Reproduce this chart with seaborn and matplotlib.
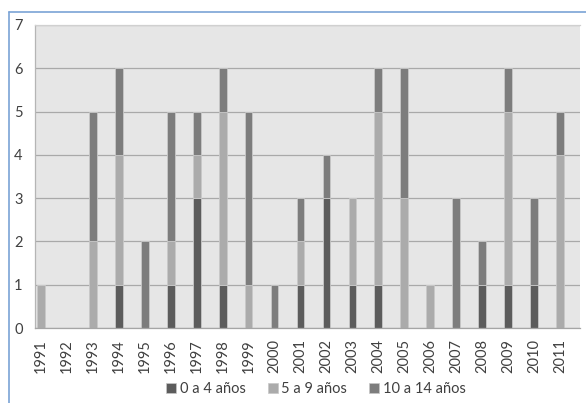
import matplotlib
matplotlib.use("Agg")
import matplotlib.pyplot as plt
from matplotlib.lines import Line2D
from matplotlib.patches import Patch
import seaborn as sns

years = [str(y) for y in range(1991, 2012)]
age_0_4 = [0, 0, 0, 1, 0, 1, 3, 1, 0, 0, 1, 3, 1, 1, 0, 0, 0, 1, 1, 1, 0]
age_5_9 = [1, 0, 2, 3, 0, 1, 1, 4, 1, 0, 1, 0, 2, 4, 3, 1, 0, 0, 4, 0, 4]
age_10_14 = [0, 0, 3, 2, 2, 3, 1, 1, 4, 1, 1, 1, 0, 1, 3, 0, 3, 1, 1, 2, 1]
series_names = ["0 a 4 años", "5 a 9 años", "10 a 14 años"]
series_colors = ["#5c5c5c", "#ababab", "#7d7d7d"]

sns.set_theme(style="white")
plt.rcParams["font.family"] = ["Lato", "DejaVu Sans"]

fig = plt.figure(figsize=(5.86, 4.03), dpi=100)
ax = fig.add_axes([35 / 586, 75 / 403, 545 / 586, 303 / 403])
ax.set_facecolor("#e6e6e6")

bottom = [0] * len(years)
for name, vals, col in zip(series_names, [age_0_4, age_5_9, age_10_14], series_colors):
    sns.barplot(x=years, y=vals, bottom=bottom, color=col, width=0.3,
                edgecolor="#c8c8c8", linewidth=0.6, saturation=1, ax=ax)
    bottom = [b + v for b, v in zip(bottom, vals)]

ax.set_ylim(0, 7)
ax.set_xlim(-0.23, 20.77)
ax.set_yticks(range(0, 8))
ax.yaxis.grid(True, color="#a9a9a9", linewidth=0.9)
ax.set_axisbelow(True)
ax.tick_params(axis="both", length=0, colors="#404040", labelsize=10.5)
ax.tick_params(axis="x", pad=8, rotation=90)
ax.tick_params(axis="y", pad=15)
for lab in ax.get_yticklabels():
    lab.set_horizontalalignment("left")
ax.set_xlabel("")
ax.set_ylabel("")
ax.spines["right"].set_visible(False)
ax.spines["top"].set_color("#d0d0d0")
ax.spines["left"].set_color("#b5b5b5")
ax.spines["bottom"].set_color("#a5a5a5")
for s in ax.spines.values():
    s.set_linewidth(0.9)

handles = [Patch(facecolor=c, edgecolor="#c8c8c8", linewidth=0.5) for c in series_colors]
fig.legend(handles, series_names, loc="center", bbox_to_anchor=(316 / 586, 1 - 389 / 403),
           ncol=3, frameon=False, fontsize=10.5, handlelength=0.7, handleheight=0.7,
           handletextpad=0.25, columnspacing=1.5, labelcolor="#404040")

# outer chart frame
ytop = 1 - 11.5 / 403
xleft = 9.5 / 586
fig.add_artist(Line2D([xleft, 1], [ytop, ytop], transform=fig.transFigure,
                      color="#7aa3d6", linewidth=1.2))
fig.add_artist(Line2D([xleft, xleft], [0, ytop], transform=fig.transFigure,
                      color="#7aa3d6", linewidth=1.2))

fig.savefig("out.png", dpi=100)
